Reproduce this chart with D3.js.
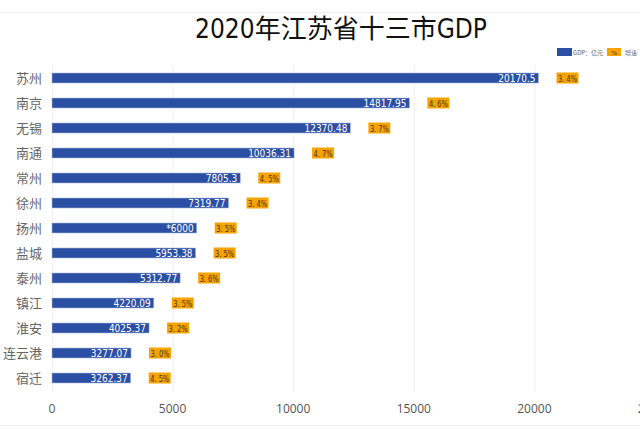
<!DOCTYPE html>
<html>
<head>
<meta charset="utf-8">
<script src="https://cdn.jsdelivr.net/npm/d3@7"></script>
<style>
  html, body { margin: 0; padding: 0; background: #fff; }
  svg { display: block; }
</style>
</head>
<body>
<svg id="chart" width="640" height="430"></svg>
<script>
// --- DATA ---
var cities = ["苏州", "南京", "无锡", "南通", "常州", "徐州", "扬州", "盐城", "泰州", "镇江", "淮安", "连云港", "宿迁"];
var gdp = [20170.5, 14817.95, 12370.48, 10036.31, 7805.3, 7319.77, 6000, 5953.38, 5312.77, 4220.09, 4025.37, 3277.07, 3262.37];
var gdpLabels = ["20170.5", "14817.95", "12370.48", "10036.31", "7805.3", "7319.77", "*6000", "5953.38", "5312.77", "4220.09", "4025.37", "3277.07", "3262.37"];
var growth = ["3. 4%", "4. 6%", "3. 7%", "4. 7%", "4. 5%", "3. 4%", "3. 5%", "3. 5%", "3. 6%", "3. 5%", "3. 2%", "3. 0%", "4. 5%"];
var xTicks = [0, 5000, 10000, 15000, 20000, 25000];

var BLUE = "#2b4fa3";
var ORANGE = "#f4a300";
var narrow = "'Liberation Sans Narrow', 'DejaVu Sans Condensed', 'Noto Sans CJK SC', sans-serif";

var svg = d3.select("#chart");

// --- SCALES ---
var x = d3.scaleLinear().domain([0, 25000]).range([52, 655]);
var y = d3.scaleBand().domain(cities).range([65.5, 390.5]).paddingInner(0.6).paddingOuter(0.3);

// top frame line + bottom line
svg.append("line").attr("x1", 0).attr("x2", 640).attr("y1", 12.5).attr("y2", 12.5)
  .attr("stroke", "#eeeeee");
svg.append("line").attr("x1", 0).attr("x2", 640).attr("y1", 425.5).attr("y2", 425.5)
  .attr("stroke", "#eeeeee");

// title
svg.append("text")
  .attr("x", 341).attr("y", 38)
  .attr("text-anchor", "middle")
  .style("font-family", narrow)
  .style("font-size", "26px")
  .attr("fill", "#111")
  .text("2020年江苏省十三市GDP");

// legend
var lg = svg.append("g").attr("transform", "translate(557,48)");
lg.append("rect").attr("width", 15).attr("height", 8).attr("fill", BLUE);
lg.append("text").attr("x", 16).attr("y", 7).style("font-size", "6px")
  .style("font-family", "'Noto Sans CJK SC', sans-serif").attr("fill", "#666").text("GDP：亿元");
lg.append("rect").attr("x", 50).attr("width", 14).attr("height", 8).attr("fill", ORANGE);
lg.append("text").attr("x", 57).attr("y", 7).attr("text-anchor", "middle").style("font-size", "7px")
  .attr("fill", "#333").text("%");
lg.append("text").attr("x", 68).attr("y", 7).style("font-size", "6px")
  .style("font-family", "'Noto Sans CJK SC', sans-serif").attr("fill", "#666").text("增速");

// gridlines
svg.append("g").selectAll("line").data(xTicks).enter().append("line")
  .attr("x1", d => x(d) + 0.5).attr("x2", d => x(d) + 0.5)
  .attr("y1", 65).attr("y2", 392)
  .attr("stroke", "#efefef");

// x axis labels
svg.append("g").selectAll("text").data(xTicks).enter().append("text")
  .attr("x", d => x(d)).attr("y", 413)
  .attr("text-anchor", "middle")
  .style("font-family", "'Open Sans', sans-serif")
  .style("font-size", "12px")
  .attr("fill", "#555")
  .text(d => d);

// city labels
svg.append("g").selectAll("text").data(cities).enter().append("text")
  .attr("x", 42).attr("y", d => y(d) + y.bandwidth() / 2 + 4.5)
  .attr("text-anchor", "end")
  .style("font-family", "'Noto Sans CJK SC', sans-serif")
  .style("font-size", "13px")
  .attr("fill", "#666")
  .text(d => d);

// bars
svg.append("g").selectAll("rect").data(cities).enter().append("rect")
  .attr("x", x(0))
  .attr("y", d => y(d))
  .attr("width", (d, i) => x(gdp[i]) - x(0))
  .attr("height", y.bandwidth())
  .attr("fill", BLUE)
  .attr("stroke", "#a9b9df")
  .attr("stroke-width", 0.6);

// value labels inside bars
svg.append("g").selectAll("text").data(cities).enter().append("text")
  .attr("x", (d, i) => x(gdp[i]) - 3)
  .attr("y", d => y(d) + y.bandwidth() / 2 + 3.5)
  .attr("text-anchor", "end")
  .style("font-family", narrow)
  .style("font-size", "10px")
  .attr("fill", "#fff")
  .text((d, i) => gdpLabels[i]);

// growth boxes
var gg = svg.append("g").selectAll("g").data(cities).enter().append("g")
  .attr("transform", (d, i) => "translate(" + (x(gdp[i]) + 18) + "," + (y(d) - 0.5) + ")");
gg.append("rect").attr("width", 22).attr("height", 11).attr("fill", ORANGE);
gg.append("text").attr("x", 1.5).attr("y", 9)
  .attr("textLength", 19).attr("lengthAdjust", "spacingAndGlyphs")
  .style("font-family", narrow)
  .style("font-size", "9.5px")
  .attr("fill", "#4a3300")
  .text((d, i) => growth[i]);
</script>
</body>
</html>
